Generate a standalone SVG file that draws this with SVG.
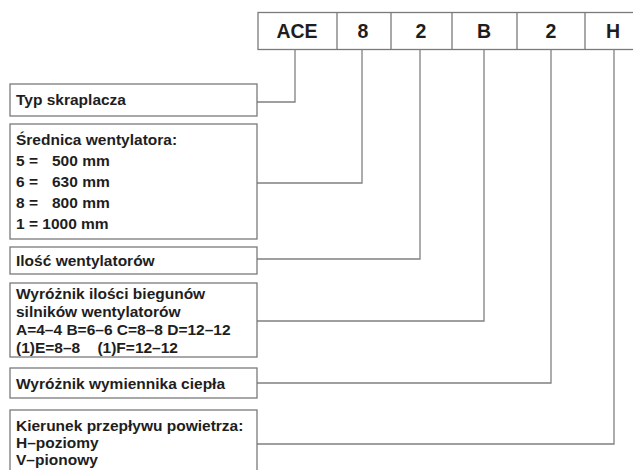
<svg xmlns="http://www.w3.org/2000/svg" width="633" height="470" viewBox="0 0 633 470">
<style>
.box{fill:#fff;stroke:#7a7a7a;stroke-width:1.3}
.conn path{fill:none;stroke:#808080;stroke-width:1.3}
text{font-family:"Liberation Sans",Arial,sans-serif;font-weight:bold;fill:#1e1e1e}
.lbl{font-size:15.5px}
.code{font-size:19.5px;text-anchor:middle}
</style>
<rect width="633" height="470" fill="#fff"/>
<g id="code-row">
<rect class="box" x="258" y="12.5" width="385" height="37"/>
<path d="M337,12.5V49.5M391,12.5V49.5M452,12.5V49.5M517,12.5V49.5M585,12.5V49.5" stroke="#7a7a7a" stroke-width="1.3" fill="none"/>
<text class="code" x="297" y="38">ACE</text>
<text class="code" x="363" y="38">8</text>
<text class="code" x="421" y="38">2</text>
<text class="code" x="484" y="38">B</text>
<text class="code" x="551" y="38">2</text>
<text class="code" x="613" y="38">H</text>
</g>
<g class="conn" id="connectors">
<path d="M295,49.5V102H257"/>
<path d="M362,49.5V183H257"/>
<path d="M420,49.5V259H257"/>
<path d="M484,49.5V321H257"/>
<path d="M551,49.5V383H257"/>
<path d="M614,49.5V444H257"/>
</g>
<g id="typ">
<rect class="box" x="10" y="84" width="247" height="32"/>
<text class="lbl" x="16" y="105">Typ skraplacza</text>
</g>
<g id="srednica">
<rect class="box" x="10" y="124" width="247" height="115"/>
<text class="lbl" x="16" y="145">Średnica wentylatora:</text>
<text class="lbl" x="16" y="166">5 =</text><text class="lbl" x="52" y="166">500 mm</text>
<text class="lbl" x="16" y="187">6 =</text><text class="lbl" x="52" y="187">630 mm</text>
<text class="lbl" x="16" y="208">8 =</text><text class="lbl" x="52" y="208">800 mm</text>
<text class="lbl" x="16" y="229">1 = 1000 mm</text>
</g>
<g id="ilosc">
<rect class="box" x="10" y="247" width="247" height="27"/>
<text class="lbl" x="16" y="266">Ilość wentylatorów</text>
</g>
<g id="bieguny">
<rect class="box" x="10" y="283" width="247" height="74"/>
<text class="lbl" x="16" y="299">Wyróżnik ilości biegunów</text>
<text class="lbl" x="16" y="317">silników wentylatorów</text>
<text class="lbl" x="16" y="335">A=4–4 B=6–6 C=8–8 D=12–12</text>
<text class="lbl" x="16" y="353" xml:space="preserve">(1)E=8–8    (1)F=12–12</text>
</g>
<g id="wymiennik">
<rect class="box" x="10" y="368" width="247" height="30"/>
<text class="lbl" x="16" y="389">Wyróżnik wymiennika ciepła</text>
</g>
<g id="kierunek">
<rect class="box" x="10" y="410" width="247" height="70"/>
<text class="lbl" x="16" y="431">Kierunek przepływu powietrza:</text>
<text class="lbl" x="16" y="448">H–poziomy</text>
<text class="lbl" x="16" y="465">V–pionowy</text>
</g>
</svg>
